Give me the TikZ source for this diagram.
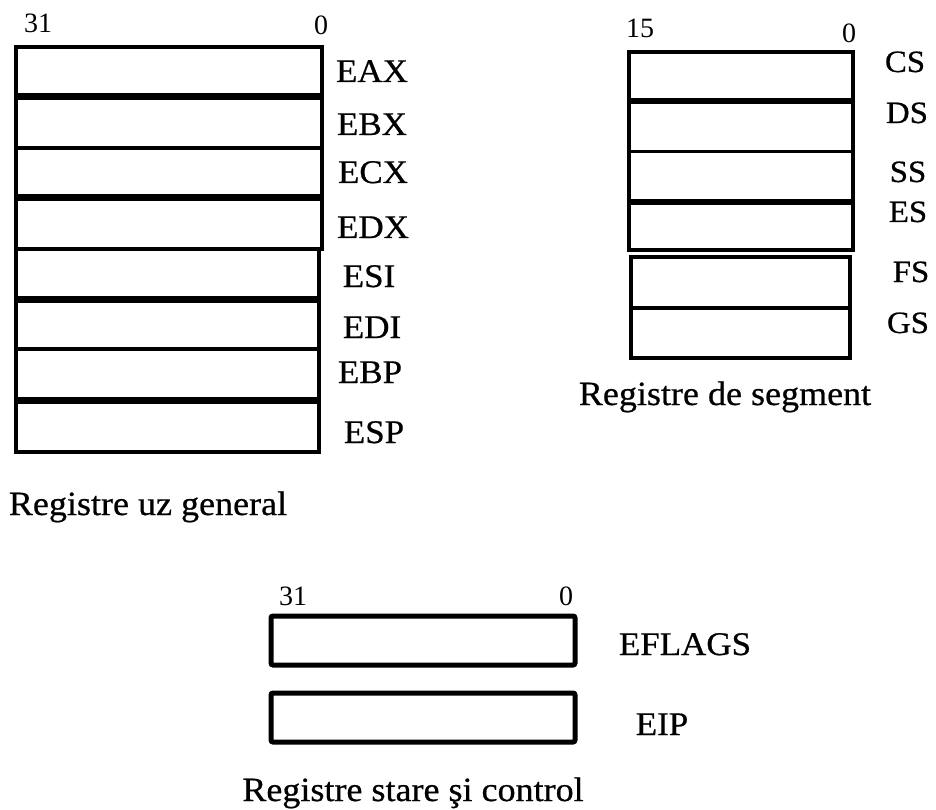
\documentclass[tikz,border=0pt]{standalone}
\usepackage{fontspec}
\setmainfont[FakeStretch=1.06,FakeBold=0.6]{Liberation Serif}
\newfontfamily\digitfont{Liberation Serif}
\begin{document}
\begin{tikzpicture}[x=1pt,y=-1pt,
  frame/.style={line width=4.5pt,line join=miter},
  septhick/.style={line width=7pt},
  septhin/.style={line width=4.5pt},
  regname/.style={anchor=base,inner sep=0pt,font=\fontsize{33}{36}\selectfont},
  segname/.style={anchor=base,inner sep=0pt,font=\fontsize{31}{34}\selectfont},
  bitno/.style={anchor=base,inner sep=0pt,font=\digitfont\fontsize{28}{30}\selectfont},
  caption/.style={anchor=base,inner sep=0pt,font=\fontsize{34}{38}\selectfont},
  ctrlbox/.style={line width=5pt,rounded corners=2pt}]
\useasboundingbox (0,0) rectangle (936,810);
\fill[white] (0,0) rectangle (936,810);

% general purpose registers
\draw[frame] (16,47) rectangle (322,249);
\draw[frame] (16,249) rectangle (319,452);
\draw[septhick] (16,97) -- (322,97);
\draw[septhin]  (16,148) -- (322,148);
\draw[septhick] (16,198) -- (322,198);
\draw[septhick] (16,299) -- (319,299);
\draw[septhin]  (16,349) -- (319,349);
\draw[septhick] (16,400) -- (319,400);
\node[bitno] (g31) at (38,33) {31};
\node[bitno] (g0) at (321,35) {0};
\node[regname] (eax) at (372,82) {EAX};
\node[regname] (ebx) at (372,135) {EBX};
\node[regname] (ecx) at (373,183) {ECX};
\node[regname] (edx) at (373,238) {EDX};
\node[regname] (esi) at (369,287) {ESI};
\node[regname] (edi) at (372,338) {EDI};
\node[regname] (ebp) at (370,383) {EBP};
\node[regname] (esp) at (374,443) {ESP};
\node[caption] (capgen) at (148,515) {Registre uz general};

% segment registers
\draw[line width=4pt] (629,52) rectangle (853,250);
\draw[line width=5.5pt] (629,101) -- (853,101);
\draw[line width=3pt] (629,152) -- (853,152);
\draw[line width=5.5pt] (629,202) -- (853,202);
\draw[line width=4pt] (631,257) rectangle (850,358);
\draw[line width=3.5pt] (631,308) -- (850,308);
\node[bitno] (s15) at (640,38) {15};
\node[bitno] (s0) at (849,43) {0};
\node[segname] (cs) at (905,72) {CS};
\node[segname] (ds) at (907,123) {DS};
\node[segname] (ss) at (908,182) {SS};
\node[segname] (es) at (908,222) {ES};
\node[segname] (fs) at (911,282) {FS};
\node[segname] (gs) at (908,333) {GS};
\node[caption] (capseg) at (725,405) {Registre de segment};

% status and control registers
\draw[ctrlbox] (271,616) rectangle (575,665);
\draw[ctrlbox] (271,693) rectangle (575,742);
\node[bitno] (c31) at (293,605) {31};
\node[bitno] (c0) at (566,605) {0};
\node[regname] (eflags) at (685,655) {EFLAGS};
\node[regname] (eip) at (662,735) {EIP};
\node[caption] (capctl) at (413,801) {Registre stare şi control};
\end{tikzpicture}
\end{document}
